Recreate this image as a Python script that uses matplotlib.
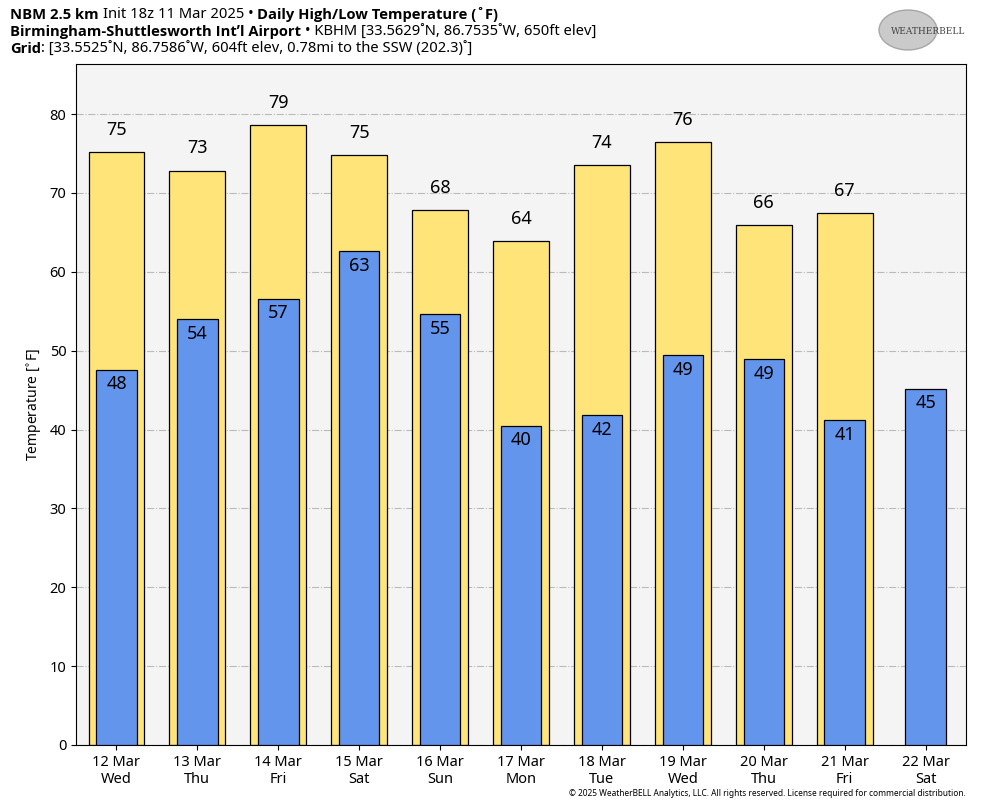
import matplotlib
matplotlib.use('Agg')
import matplotlib.pyplot as plt
from matplotlib.patches import Ellipse

plt.rcParams['font.family'] = ['Noto Sans', 'DejaVu Sans']

dates = ['12 Mar', '13 Mar', '14 Mar', '15 Mar', '16 Mar', '17 Mar',
         '18 Mar', '19 Mar', '20 Mar', '21 Mar', '22 Mar']
days = ['Wed', 'Thu', 'Fri', 'Sat', 'Sun', 'Mon', 'Tue', 'Wed', 'Thu', 'Fri', 'Sat']
highs = [75.2, 72.8, 78.6, 74.8, 67.8, 63.9, 73.5, 76.4, 65.9, 67.4, None]
lows = [47.6, 54.0, 56.6, 62.6, 54.6, 40.5, 41.8, 49.4, 48.9, 41.2, 45.2]

HI_COL = '#FFE47A'
LO_COL = '#6495ED'


def segments(fig, x, y, parts, size=10.6):
    # draw text pieces one after another on one line (bold / normal)
    r = fig.canvas.get_renderer()
    inv = fig.transFigure.inverted()
    for s, w, gap in parts:
        fam = ['Open Sans', 'DejaVu Sans'] if w == 'bold' else ['Noto Sans', 'DejaVu Sans']
        t = fig.text(x, y, s, fontsize=size, fontweight=w, family=fam, ha='left', va='center')
        bb = t.get_window_extent(renderer=r)
        x = inv.transform((bb.x1 + gap, bb.y0))[0]


def main():
    fig = plt.figure(figsize=(9.84, 8.08), dpi=100)
    ax = fig.add_axes([76 / 984, 1 - 745 / 808, 890 / 984, 681 / 808])
    ax.set_facecolor('#f4f4f4')

    x = list(range(len(dates)))
    for i in x:
        if highs[i] is not None:
            ax.bar(i, highs[i], width=0.69, color=HI_COL, edgecolor='black', linewidth=0.9, zorder=2)
            ax.text(i, highs[i] + 1.7, f'{highs[i]:.0f}', ha='center', va='bottom', fontsize=13, zorder=4)
        ax.bar(i, lows[i], width=0.5, color=LO_COL, edgecolor='black', linewidth=0.9, zorder=3)
        ax.text(i, lows[i] - 0.7, f'{lows[i]:.0f}', ha='center', va='top', fontsize=13, zorder=4)

    ax.set_xlim(-0.5, len(dates) - 0.5)
    ax.set_ylim(0, 86.35)
    ax.set_yticks(range(0, 81, 10))
    ax.set_xticks(x)
    ax.set_xticklabels([f'{d}\n{w}' for d, w in zip(dates, days)], fontsize=10.5)
    ax.tick_params(axis='y', labelsize=10.5)
    ax.grid(axis='y', color='#bbbbbb', linestyle='-.', linewidth=0.8, zorder=0)
    ax.set_axisbelow(True)
    ax.set_ylabel('Temperature [$^{\\circ}$F]', fontsize=10)

    segments(fig, 10 / 984, 1 - 15 / 808,
             [('NBM 2.5 km', 'bold', 4), ('Init 18z 11 Mar 2025 \u2022', 'normal', 4),
              ('Daily High/Low Temperature (\u02daF)', 'bold', 0)])
    segments(fig, 10 / 984, 1 - 32 / 808,
             [("Birmingham-Shuttlesworth Int\u02bcl Airport", 'bold', 4),
              ('\u2022 KBHM [33.5629\u02daN, 86.7535\u02daW, 650ft elev]', 'normal', 0)])
    segments(fig, 10 / 984, 1 - 49 / 808,
             [('Grid', 'bold', 0),
              (': [33.5525\u02daN, 86.7586\u02daW, 604ft elev, 0.78mi to the SSW (202.3)\u02da]', 'normal', 0)])

    # logo approximation
    fig.patches.append(Ellipse((908 / 984, 1 - 30 / 808), 58 / 984, 40 / 808,
                               transform=fig.transFigure, facecolor='#bdbdbd',
                               edgecolor='#999999', alpha=0.8))
    fig.text(928 / 984, 1 - 31 / 808, 'WEATHERBELL', fontsize=6.5, color='#444444',
             ha='center', va='center', fontfamily='DejaVu Serif')

    fig.text(966 / 984, 1 - 794 / 808,
             '© 2025 WeatherBELL Analytics, LLC. All rights reserved. License required for commercial distribution.',
             fontsize=6, ha='right', va='center')

    fig.savefig('out.png', dpi=100)


if __name__ == '__main__':
    main()
